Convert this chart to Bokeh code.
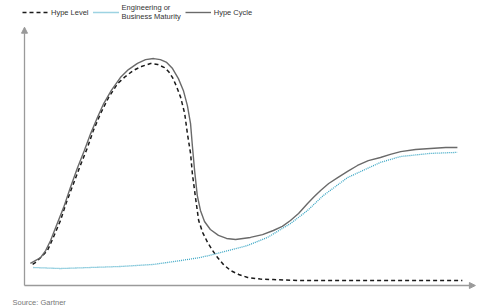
from bokeh.plotting import figure
from bokeh.models import Range1d, Arrow, NormalHead, Label, Legend, LegendItem
from bokeh.embed import file_html
from bokeh.resources import INLINE

# Time axis (0-100) and expectation axis (0-100)
hype_cycle_x = [1.3, 2.4, 3.6, 4.7, 5.8, 7.1, 8.7, 10.2, 11.8, 13.3, 14.7, 16.2, 17.6, 19.3,
                21.3, 23.1, 25.1, 26.9, 28.7, 30.2, 31.6, 32.9, 34.2, 35.3, 36.2, 36.9, 37.3,
                37.8, 38.4, 39.1, 40.0, 41.3, 43.1, 44.9, 46.9, 50.2, 52.9, 55.3, 57.3, 59.1,
                60.9, 62.9, 64.4, 65.8, 67.6, 69.6, 71.8, 74.0, 76.4, 79.1, 81.3, 83.6, 86.9,
                90.2, 93.6, 96.2]
hype_cycle_y = [8.6, 9.7, 10.9, 13.6, 17.5, 23.3, 30.4, 38.1, 45.9, 52.5, 59.1, 65.4, 70.8, 75.9,
                80.9, 84.0, 86.4, 87.9, 88.3, 87.9, 86.8, 84.4, 80.5, 75.9, 70.0, 63.0, 54.5,
                44.7, 35.0, 29.2, 24.9, 21.8, 19.5, 18.3, 17.9, 18.7, 19.8, 21.4, 23.0, 25.3,
                28.0, 31.9, 34.6, 37.0, 39.7, 42.0, 44.4, 46.7, 48.6, 49.8, 51.0, 52.1, 52.9,
                53.3, 53.7, 53.7]

hype_level_x = [1.8, 2.4, 3.6, 5.1, 6.4, 8.0, 9.3, 10.9, 12.4, 14.0, 15.3, 16.9, 18.7, 20.7,
                22.4, 24.2, 26.0, 28.0, 29.6, 31.1, 32.0, 32.9, 33.8, 34.7, 35.6, 36.2, 36.9,
                37.3, 38.0, 38.7, 39.6, 40.7, 41.8, 42.9, 44.2, 45.8, 47.6, 49.6, 52.4, 55.3,
                61.3, 97.3]
hype_level_y = [8.2, 8.9, 10.9, 13.6, 18.7, 25.3, 32.3, 39.7, 46.7, 53.7, 60.3, 66.9, 73.2, 78.6,
                81.3, 83.7, 85.2, 86.4, 86.0, 84.8, 83.3, 80.9, 77.4, 73.2, 66.9, 59.1, 51.4,
                43.6, 34.2, 25.3, 20.6, 16.7, 13.6, 10.9, 8.2, 5.8, 4.3, 3.1, 2.5, 2.3,
                1.9, 1.9]

maturity_x = [2.0, 8.0, 21.3, 28.7, 34.7, 39.1, 42.0, 49.6, 54.0, 59.1, 62.9, 66.4, 71.8, 79.1,
              83.6, 90.2, 96.2]
maturity_y = [7.0, 6.6, 7.4, 8.2, 9.7, 10.9, 12.1, 15.6, 18.7, 24.1, 29.2, 35.0, 42.0, 47.9,
              50.2, 51.4, 51.8]

series_labels = ["Hype Level", "Engineering or\nBusiness Maturity", "Hype Cycle"]
source_text = "Source: Gartner"

W, H = 500, 308
p = figure(width=W, height=H, output_backend="svg", toolbar_location=None,
           x_range=Range1d(-24 / 4.5, (W - 24) / 4.5),
           y_range=Range1d((285 - H) / 2.57, 285 / 2.57),
           min_border=0, outline_line_color=None)
p.axis.visible = False
p.grid.visible = False
p.background_fill_color = "white"
p.border_fill_color = "white"

axis_color = "#9a9a9a"
p.add_layout(Arrow(end=NormalHead(size=6, fill_color=axis_color, line_color=axis_color),
                   x_start=0, y_start=0, x_end=0, y_end=100.5,
                   line_color=axis_color, line_width=1.3))
p.add_layout(Arrow(end=NormalHead(size=6, fill_color=axis_color, line_color=axis_color),
                   x_start=0, y_start=0, x_end=100.2, y_end=0,
                   line_color=axis_color, line_width=1.3))

r_level = p.line(hype_level_x, hype_level_y, line_color="#1a1a1a", line_width=1.5,
                 line_dash="4 3", line_join="round")
r_mat = p.line(maturity_x, maturity_y, line_color="#3aa6c4", line_width=1.3, line_dash="1 1",
               line_join="round")
r_cycle = p.line(hype_cycle_x, hype_cycle_y, line_color="#6a6a6a", line_width=1.4,
                 line_join="round")

legend = Legend(items=[LegendItem(label=series_labels[0], renderers=[r_level]),
                       LegendItem(label=series_labels[1], renderers=[r_mat]),
                       LegendItem(label=series_labels[2], renderers=[r_cycle])],
                orientation="horizontal", location=(22, H - 21),
                label_text_font="Liberation Sans", label_text_font_size="7.5px",
                label_text_color="#333333", label_standoff=3, glyph_width=26,
                glyph_height=10, spacing=4, padding=2, margin=0,
                border_line_color=None, background_fill_alpha=0,
                label_height=10)
p.add_layout(legend)

p.add_layout(Label(x=12, y=H - 302, x_units="screen", y_units="screen", text=source_text,
                   text_font="Liberation Sans", text_font_size="7.5px", text_color="#777777",
                   text_baseline="middle"))

open("out.html", "w").write(file_html(p, INLINE))
